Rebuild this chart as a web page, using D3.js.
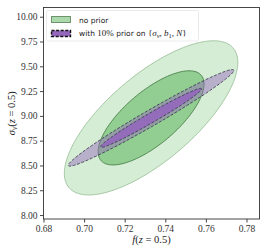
<!DOCTYPE html>
<html>
<head>
<meta charset="utf-8">
<script src="https://cdn.jsdelivr.net/npm/d3@7.9.0/dist/d3.min.js"></script>
<style>
  body { margin: 0; background: #fff; }
  svg { display: block; }
  .tick text { font-family: "Liberation Serif", serif; font-size: 9.5px; fill: #333; }
  .lbl { font-family: "Liberation Serif", serif; font-size: 10.5px; fill: #222; }
  .leg { font-family: "DejaVu Sans", sans-serif; font-size: 7.5px; fill: #222; }
</style>
</head>
<body>
<svg id="chart" width="267" height="250"></svg>
<script>
// axis ticks
const xTicks = [0.68, 0.70, 0.72, 0.74, 0.76, 0.78];
const yTicks = [8.00, 8.25, 8.50, 8.75, 9.00, 9.25, 9.50, 9.75, 10.00];

// two posteriors: no prior / with 10% prior
const seriesNames = ["no prior", "prior"];
const centerF = [0.733, 0.733];
const centerS = [8.98, 8.98];
const sigmaF = [0.0172, 0.0164];
const sigmaS = [0.313, 0.196];
const rho = [0.72, 0.982];
// delta chi^2 for 95% and 68% regions
const levels = [6.17, 2.30];

const svg = d3.select("#chart");
const margin = { left: 43.5, right: 7.5, top: 7.5, bottom: 31 };
const W = 267, H = 250;

const x = d3.scaleLinear().domain([0.68, 0.7864]).range([margin.left, W - margin.right]);
const y = d3.scaleLinear().domain([7.96, 10.093]).range([H - margin.bottom, margin.top]);

function ellipse(i, k) {
    const pts = [];
    const r = Math.sqrt(k);
    for (let j = 0; j < 180; j++) {
        const t = j / 180 * 2 * Math.PI;
        const df = r * sigmaF[i] * Math.cos(t);
        const ds = r * sigmaS[i] * (rho[i] * Math.cos(t) + Math.sqrt(1 - rho[i] * rho[i]) * Math.sin(t));
        pts.push([x(centerF[i] + df), y(centerS[i] + ds)]);
    }
    return d3.line().curve(d3.curveLinearClosed)(pts);
}

const styles = {
    "no prior": [
        { fill: "#2ca02c", op: 0.2, stroke: "#a6c9a4", sw: 1, dash: null },
        { fill: "#2ca02c", op: 0.4, stroke: "#4a7f48", sw: 0.9, dash: null }
    ],
    "prior": [
        { fill: "#9467bd", op: 0.45, stroke: "#3c3c50", sw: 0.9, dash: "3,1.6" },
        { fill: "#9467bd", op: 0.9, stroke: "#3c3c50", sw: 0.9, dash: "3,1.6" }
    ]
};

const plot = svg.append("g");
seriesNames.forEach((name, i) => {
    levels.forEach((k, li) => {
        const s = styles[name][li];
        plot.append("path")
            .attr("d", ellipse(i, k))
            .attr("fill", s.fill)
            .attr("fill-opacity", s.op)
            .attr("stroke", s.stroke)
            .attr("stroke-width", s.sw)
            .attr("stroke-dasharray", s.dash);
    });
});

// axes
const xAxis = svg.append("g")
    .attr("transform", `translate(0,${H - margin.bottom})`)
    .call(d3.axisBottom(x).tickValues(xTicks).tickFormat(d3.format(".2f")).tickSize(3.5).tickPadding(3));
const yAxis = svg.append("g")
    .attr("transform", `translate(${margin.left},0)`)
    .call(d3.axisLeft(y).tickValues(yTicks).tickFormat(d3.format(".2f")).tickSize(3.5).tickPadding(2.5));
[xAxis, yAxis].forEach(a => {
    a.select(".domain").remove();
    a.selectAll(".tick line").attr("stroke", "#333").attr("stroke-width", 0.9);
});

svg.append("rect")
    .attr("x", margin.left).attr("y", margin.top)
    .attr("width", W - margin.left - margin.right)
    .attr("height", H - margin.top - margin.bottom)
    .attr("fill", "none").attr("stroke", "#333").attr("stroke-width", 0.9);

// axis labels
const xl = svg.append("text").attr("class", "lbl")
    .attr("x", (margin.left + W - margin.right) / 2).attr("y", 243)
    .attr("text-anchor", "middle");
xl.append("tspan").attr("font-style", "italic").text("f");
xl.append("tspan").text("(");
xl.append("tspan").attr("font-style", "italic").text("z");
xl.append("tspan").text(" = 0.5)");

const yl = svg.append("text").attr("class", "lbl")
    .attr("transform", `translate(15,${(margin.top + H - margin.bottom) / 2}) rotate(-90)`)
    .attr("text-anchor", "middle");
yl.append("tspan").attr("font-style", "italic").text("σ");
yl.append("tspan").attr("font-style", "italic").attr("font-size", "7.5px").attr("dy", 2).text("v");
yl.append("tspan").attr("dy", -2).text("(");
yl.append("tspan").attr("font-style", "italic").text("z");
yl.append("tspan").text(" = 0.5)");

// legend
const leg = svg.append("g");
leg.append("rect")
    .attr("x", 46.5).attr("y", 10.5).attr("width", 152).attr("height", 30.5).attr("rx", 2)
    .attr("fill", "#fff").attr("fill-opacity", 0.8).attr("stroke", "#e6e6e6").attr("stroke-width", 0.8);
leg.append("rect")
    .attr("x", 51.5).attr("y", 16.5).attr("width", 19).attr("height", 6)
    .attr("fill", "#2ca02c").attr("fill-opacity", 0.4)
    .attr("stroke", "#6f946d").attr("stroke-width", 1);
leg.append("rect")
    .attr("x", 51.5).attr("y", 30.5).attr("width", 19).attr("height", 6)
    .attr("fill", "#9467bd")
    .attr("stroke", "#111").attr("stroke-width", 1.4).attr("stroke-dasharray", "3,1.6");
leg.append("text").attr("class", "leg").attr("x", 79).attr("y", 22.5).text(seriesNames[0]);
const t2 = leg.append("text").attr("class", "leg").attr("x", 79).attr("y", 36);
t2.append("tspan").text("with ");
t2.append("tspan").attr("font-family", "Liberation Serif, serif").attr("font-size", "9px").text("10%");
t2.append("tspan").text(" prior on ");
const m = t2.append("tspan").attr("font-family", "Liberation Serif, serif").attr("font-size", "9px");
m.append("tspan").text("{");
m.append("tspan").attr("font-style", "italic").text("σ");
m.append("tspan").attr("font-style", "italic").attr("font-size", "6.5px").attr("dy", 1.5).text("v");
m.append("tspan").attr("dy", -1.5).text(", ");
m.append("tspan").attr("font-style", "italic").text("b");
m.append("tspan").attr("font-size", "6.5px").attr("dy", 1.5).text("1");
m.append("tspan").attr("dy", -1.5).text(", ");
m.append("tspan").attr("font-style", "italic").text("N");
m.append("tspan").text("}");
</script>
</body>
</html>
